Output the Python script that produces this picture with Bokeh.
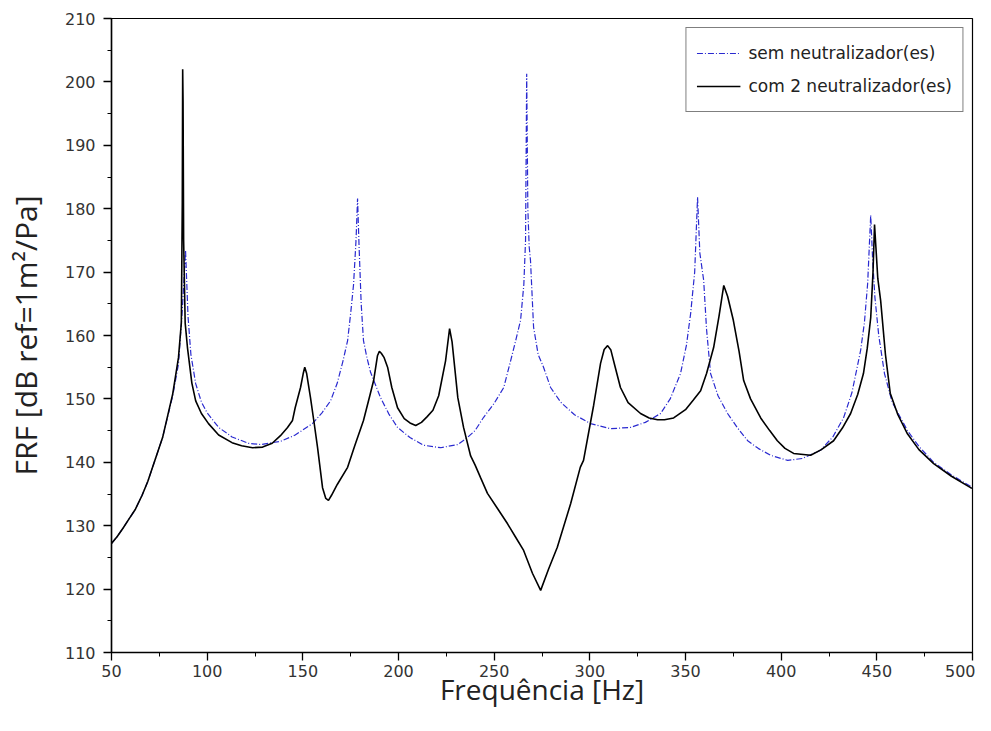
from bokeh.plotting import figure
from bokeh.models import SingleIntervalTicker, Range1d, Legend
from bokeh.embed import file_html
from bokeh.resources import INLINE

# --- data: "com 2 neutralizador(es)" (black, solid)
freq_com = [50, 53, 56, 59, 62.5, 66, 69, 76.7, 82, 85, 86.5, 87.0, 87.2, 87.4, 87.7, 88.5, 89.7, 92, 94, 97,
            100.7, 106, 113, 118, 123.7, 129, 134, 138.3, 142, 144.6, 146, 148.8, 150.2, 151, 152,
            154, 156, 157.7, 160.3, 162, 163.4, 165, 168, 173.4, 177, 181.7, 185, 187, 189, 190,
            191, 192.5, 194.3, 196.5, 199.5, 203, 206, 209, 212, 215, 218, 221, 224.6, 226.7, 228,
            231, 234, 237.7, 240, 243, 246.5, 252, 257, 261, 265.4, 270, 274.3, 278.5, 283, 290, 295,
            296.7, 302, 305.6, 307.5, 309.3, 311, 313, 316, 320, 326.5, 331, 335.4, 339, 343.8,
            350, 354, 357.9, 361, 364.7, 367.5, 370, 372, 375, 378, 380.4, 384, 389.3, 394, 398,
            402, 406.5, 415.4, 421, 427.4, 432, 436.3, 440, 443, 445, 446.8, 448, 448.8, 449.5,
            450.5, 452, 454.5, 457, 461, 466, 472, 479.7, 489, 499, 500]
frf_com = [127.2, 128.3, 129.6, 131, 132.6, 134.8, 137, 143.9, 150.8, 156.5, 162, 181, 202, 197, 175, 162, 158.1, 152.5,
           149.7, 147.7, 146.1, 144.3, 143.1, 142.6, 142.3, 142.4, 143, 144.2, 145.5, 146.6, 148.6,
           151.8, 154, 155, 154, 150.2, 146, 142.3, 136, 134.3, 134, 134.8, 136.5, 139.2, 142.5,
           146.6, 150.5, 152.9, 156.8, 157.5, 157.2, 156.5, 155, 151.8, 148.6, 146.9, 146.2, 145.8,
           146.3, 147.2, 148.2, 150.5, 156, 161.1, 159, 150.2, 145.5, 141, 139.6, 137.5, 135.1, 132.6,
           130.3, 128.3, 126.1, 122.5, 119.8, 123.2, 126.6, 133.5, 139.2, 140.3, 149, 155.6, 157.8,
           158.4, 157.7, 155.3, 151.8, 149.4, 147.7, 147, 146.7, 146.7, 147, 148.3, 149.8, 151.3,
           154, 158.1, 163, 167.9, 166.2, 162.4, 157.5, 152.9, 150, 147, 145, 143.4, 142.2, 141.4,
           141.1, 142, 143.4, 145.4, 147.7, 150.7, 154, 158, 162.8, 170, 177.5, 174, 169, 165.5,
           157, 150.9, 147.5, 144.5, 142, 139.8, 137.8, 136, 135.9]

# --- data: "sem neutralizador(es)" (blue, dash-dot)
freq_sem = [50, 53, 56, 59, 62.5, 66, 69, 76.7, 82, 85, 87, 88.7, 90, 91.5, 94, 97, 100, 106, 113, 121.6, 128,
            134, 138.3, 146, 155, 160, 164.5, 168, 171, 173.4, 175, 176.5, 177.8, 178.6, 179.4,
            180.5, 181.7, 183.5, 185.4, 190.6, 195, 199.5, 206, 213, 222, 231, 236, 240, 244.5,
            250, 255, 258.6, 261.5, 263.8, 265.5, 266.4, 267, 267.6, 268.3, 269, 270.6, 273, 275.8,
            279.5, 284.7, 292, 300.4, 310.8, 321.3, 329, 337, 342, 347.4, 350.5, 352.7, 354.8,
            356.3, 357.5, 359.5, 361, 363.1, 367, 372, 377, 382.5, 388, 394.5, 403.4, 411, 420.6,
            427, 432.6, 437, 441.5, 443.5, 445.2, 446.8, 447.8, 449, 451, 454, 458, 466, 472, 479.7,
            489, 499, 500]
frf_sem = [127.2, 128.3, 129.6, 131, 132.6, 134.8, 137, 143.9, 150.5, 155.5, 164, 173.4, 163, 157, 152.4, 149.5, 147.8,
           145.5, 144, 143, 142.8, 143.1, 143.3, 144.3, 146.1, 147.8, 149.7, 152.5, 156, 159.2,
           163.5, 168, 175, 181.6, 174, 165, 159.2, 156.5, 154.2, 150.2, 147.6, 145.5, 143.9, 142.7,
           142.3, 142.8, 143.9, 145, 147.1, 149.3, 151.8, 156, 159.5, 162.4, 168, 175, 201.3, 180,
           174, 171.8, 161.3, 157, 155, 151.8, 149.5, 147.5, 146.1, 145.3, 145.5, 146.3, 147.7, 150,
           154, 158.5, 163.5, 170, 181.8, 173, 168.7, 161, 154, 150.5, 147.7, 145.5, 143.4, 142.2,
           141.1, 140.3, 140.6, 141.9, 144, 147, 151, 157.6, 162, 168.2, 179, 172, 166, 160, 154,
           149.5, 145, 142.5, 140, 138, 136.2, 136]

x_ticks_interval = 50
y_ticks_interval = 10

p = figure(width=975, height=715, output_backend="svg", toolbar_location=None,
           x_range=Range1d(50, 500), y_range=Range1d(110, 210),
           min_border_left=111, min_border_right=3, min_border_top=18, min_border_bottom=63)
p.background_fill_color = "white"
p.border_fill_color = "white"
p.outline_line_color = "black"
p.outline_line_width = 1.2
p.xgrid.visible = False
p.ygrid.visible = False

r_sem = p.line(freq_sem, frf_sem, line_color="#2a2ad0", line_width=1.2, line_dash="6 2 1 2")
r_com = p.line(freq_com, frf_com, line_color="black", line_width=1.6)

p.xaxis.ticker = SingleIntervalTicker(interval=x_ticks_interval, num_minor_ticks=2)
p.yaxis.ticker = SingleIntervalTicker(interval=y_ticks_interval, num_minor_ticks=2)
for ax in (p.xaxis[0], p.yaxis[0]):
    ax.axis_line_color = "black"
    ax.axis_line_width = 1.5
    ax.major_tick_line_color = "black"
    ax.major_tick_line_width = 1.3
    ax.minor_tick_line_color = "black"
    ax.major_tick_out = 8
    ax.major_tick_in = 0
    ax.minor_tick_out = 4
    ax.minor_tick_in = 0
    ax.major_label_text_font = "DejaVu Sans"
    ax.major_label_text_font_size = "16px"
    ax.major_label_text_color = "#333333"
    ax.axis_label_text_font = "Open Sans"
    ax.axis_label_text_font_style = "normal"
    ax.axis_label_text_color = "#222222"

p.xaxis.axis_label_text_font_size = "28px"
p.yaxis.axis_label_text_font_size = "30px"
p.xaxis.axis_label = "Frequência [Hz]"
p.yaxis.axis_label = "FRF [dB ref=1m²/Pa]"
p.xaxis.major_label_standoff = 4
p.yaxis.major_label_standoff = 8
p.xaxis.axis_label_standoff = -10
p.yaxis.axis_label_standoff = 16

legend = Legend(items=[("sem neutralizador(es)", [r_sem]), ("com 2 neutralizador(es)", [r_com])],
                location="top_right")
legend.margin = 9
legend.padding = 10
legend.spacing = 3
legend.glyph_width = 44
legend.glyph_height = 30
legend.label_height = 30
legend.label_standoff = 8
legend.label_text_font = "DejaVu Sans"
legend.label_text_font_size = "17px"
legend.label_text_color = "#222222"
legend.border_line_color = "black"
legend.border_line_width = 1.2
legend.background_fill_alpha = 1.0
p.add_layout(legend)

open("out.html", "w").write(file_html(p, INLINE))
